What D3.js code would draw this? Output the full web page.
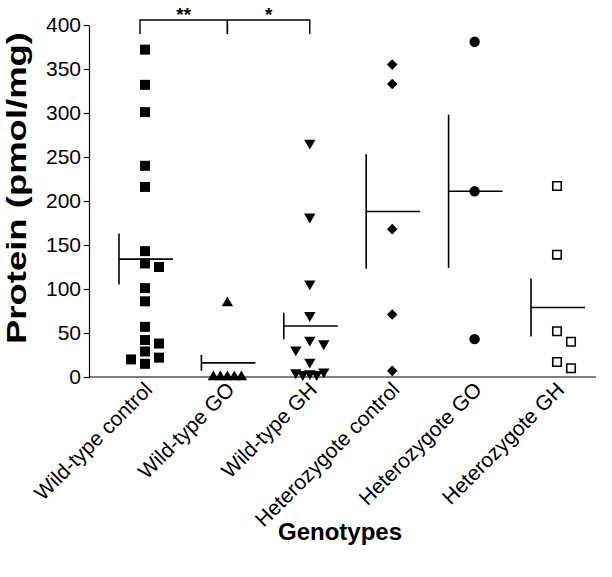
<!DOCTYPE html>
<html><head><meta charset="utf-8">
<script src="https://cdn.jsdelivr.net/npm/d3@7/dist/d3.min.js"></script>
<style>body{margin:0;background:#fff}svg{display:block}</style>
</head><body><svg id="c" width="612" height="577"></svg>
<script>
// ---------------- data ----------------
const categories = ["Wild-type control","Wild-type GO","Wild-type GH","Heterozygote control","Heterozygote GO","Heterozygote GH"];
const wildTypeControl = [372,332,301,240,216,143,129,125,101,86,57,42,38,29,22,20,15];
const wildTypeGO = [84,0,0,0,0,0];
const wildTypeGH = [266,182,106,70,42,38,31,17,6,5,4,3,3];
const heteroControl = [355,333,168,71,7];
const heteroGO = [381,211,43];
const heteroGH = [217,139,52,40,17,10];
const groupMeans = [134,16,58,188,211,79];
const groupSems = [29,9,15,65,87,33];
const yTicks = [0,50,100,150,200,250,300,350,400];
const significance = [{from:0,to:1,label:"**"},{from:1,to:2,label:"*"}];
const yTitle = "Protein (pmol/mg)";
const xTitle = "Genotypes";

// ---------------- layout ----------------
const FONT = "'Liberation Sans', Arial, Helvetica, sans-serif";
const margin = {left:89, top:25};
const W = 507, H = 352;
const svg = d3.select("#c");
const g = svg.append("g").attr("transform",`translate(${margin.left},${margin.top})`);

const x = d3.scalePoint().domain(categories).range([56, 468]);
const y = d3.scaleLinear().domain([0,400]).range([H,0]);

const seriesValues = [wildTypeControl, wildTypeGO, wildTypeGH, heteroControl, heteroGO, heteroGH];
const shapes = ["square","triangle","triangleDown","diamond","circle","openSquare"];

// y axis
const yAxis = g.append("g").call(d3.axisLeft(y).tickValues(yTicks).tickSize(5).tickSizeOuter(0).tickPadding(3));
yAxis.selectAll("text").attr("font-family",FONT).attr("font-size",21).attr("fill","#000");
yAxis.selectAll("line,path").attr("stroke","#000").attr("stroke-width",1.2);

// x axis
const xAxis = g.append("g").attr("transform",`translate(0,${H})`).call(d3.axisBottom(x).tickSize(0).tickPadding(0));
xAxis.select(".domain").remove();
xAxis.append("line").attr("x1",0).attr("x2",W).attr("y1",0).attr("y2",0).attr("stroke","#000").attr("stroke-width",1.2);
xAxis.selectAll(".tick text")
  .attr("font-family",FONT).attr("font-size",21).attr("fill","#000")
  .attr("text-anchor","end").attr("dy",null).attr("y",0)
  .attr("transform","translate(8,14) rotate(-45)");

// mean + SEM bars
categories.forEach((c,i)=>{
  const cx = x(c);
  g.append("line").attr("x1",cx-26).attr("x2",cx+28).attr("y1",y(groupMeans[i])).attr("y2",y(groupMeans[i]))
    .attr("stroke","#000").attr("stroke-width",1.6);
  g.append("line").attr("x1",cx-26).attr("x2",cx-26)
    .attr("y1",y(groupMeans[i]+groupSems[i])).attr("y2",y(Math.max(0,groupMeans[i]-groupSems[i])))
    .attr("stroke","#000").attr("stroke-width",1.6);
});

// symbol generators
function symbolPath(shape){
  switch(shape){
    case "square": case "openSquare": return d3.symbol(d3.symbolSquare, shape==="openSquare"?72:100)();
    case "triangle": case "triangleDown": return d3.symbol(d3.symbolTriangle, 56)();
    case "diamond": return d3.symbol(d3.symbolSquare, 56)();
    case "circle": return d3.symbol(d3.symbolCircle, 85)();
  }
}
function symbolRotation(shape){
  return shape==="triangleDown" ? 180 : shape==="diamond" ? 45 : 0;
}

// dodge points sideways so they don't sit on each other
function dodge(values){
  const step = 7, placed = [];
  const order = values.map((v,i)=>({v,i})).sort((a,b)=>b.v-a.v);
  const out = new Array(values.length);
  order.forEach(({v,i})=>{
    const py = y(v);
    for(let k=0;k<40;k++){
      const m = k===0?0:(k%2===1?(k+1)/2:-(k/2));
      const dx = m*step;
      const hit = placed.some(p=>{
        const ddy = Math.abs(p.py-py);
        const lim = ddy < 3 ? 6 : 10;
        return Math.abs(p.dx-dx) < lim && ddy < 11;
      });
      if(!hit){ placed.push({dx,py}); out[i]=dx; break; }
    }
  });
  return out;
}

seriesValues.forEach((vals,i)=>{
  const offs = dodge(vals);
  const shape = shapes[i];
  const cx = x(categories[i]);
  g.append("g").selectAll("path").data(vals).join("path")
    .attr("d", symbolPath(shape))
    .attr("transform",(v,j)=>`translate(${cx+offs[j]},${y(v)}) rotate(${symbolRotation(shape)})`)
    .attr("fill", shape==="openSquare" ? "#fff" : "#000")
    .attr("stroke","#000")
    .attr("stroke-width", shape==="openSquare" ? 1.6 : 0);
});

// significance brackets
const by = -5, drop = 14;
significance.forEach(s=>{
  const x1 = x(categories[s.from]) + (s.from===0?-5:0), x2 = x(categories[s.to]);
  g.append("path").attr("d",`M${x1},${by+drop}V${by}H${x2}V${by+drop}`)
    .attr("fill","none").attr("stroke","#000").attr("stroke-width",1.4);
  g.append("text").attr("x",(x1+x2)/2).attr("y",by+1).attr("text-anchor","middle")
    .attr("font-family",FONT).attr("font-size",19).attr("font-weight","bold").text(s.label);
});

// titles
svg.append("text").attr("transform","translate(26,188) rotate(-90)").attr("text-anchor","middle")
  .attr("font-family",FONT).attr("font-size",28).attr("font-weight","bold")
  .attr("textLength",312).attr("lengthAdjust","spacingAndGlyphs").text(yTitle);
svg.append("text").attr("x",340).attr("y",540).attr("text-anchor","middle")
  .attr("font-family",FONT).attr("font-size",24).attr("font-weight","bold").text(xTitle);
</script></body></html>
